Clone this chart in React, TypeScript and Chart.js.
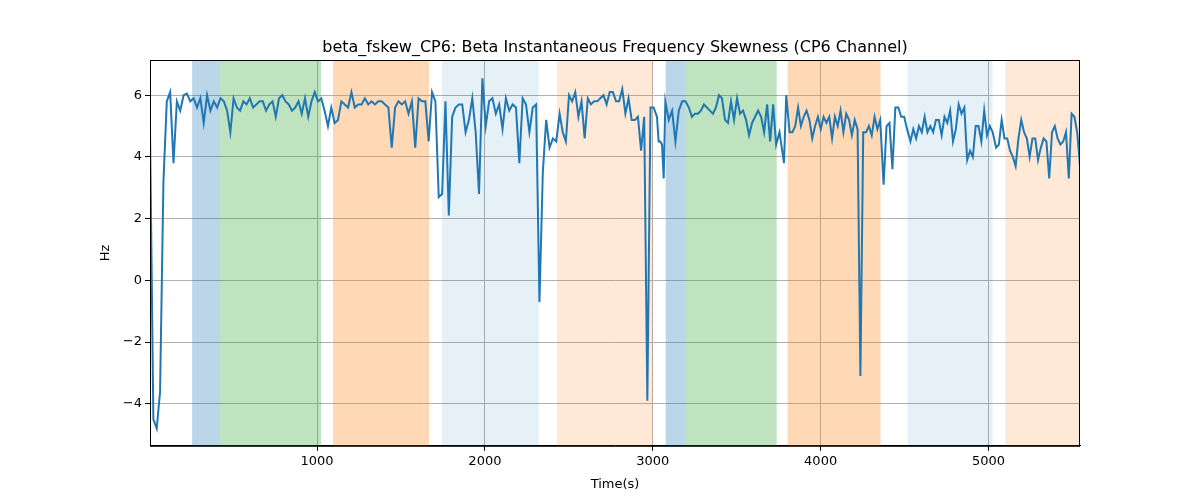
import React, { useEffect, useRef } from "react";
import { Chart, registerables } from "chart.js";
Chart.register(...registerables);

// Each segment: start time, end time, values evenly spaced across it
const segStart = [5, 265, 445, 1045, 1105, 1685, 1765, 2345, 2445, 3025, 3095, 3215, 3755, 3815, 4375, 4535, 5045];
const segEnd = [245, 425, 1025, 1085, 1665, 1745, 2325, 2425, 3005, 3075, 3195, 3735, 3795, 4355, 4515, 5025, 5545];
const segValues: number[][] = [
  [4.9, -4.5, -4.8, -3.6, 3.2, 5.8, 6.1, 3.8, 5.8, 5.5, 6.0, 6.05, 5.8],
  [5.9, 5.6, 5.9, 5.1, 6.0, 5.5, 5.8, 5.6, 5.9],
  [5.8, 5.5, 4.8, 5.9, 5.6, 5.5, 5.8, 5.7, 5.9, 5.6, 5.7, 5.8, 5.8, 5.5, 5.7, 5.8, 5.3, 5.9, 6.0, 5.8, 5.7, 5.5, 5.6, 5.8, 5.4, 5.9, 5.3, 5.8, 6.1, 5.8, 5.9],
  [5.5, 5.0, 5.6],
  [5.1, 5.2, 5.8, 5.7, 5.6, 6.1, 5.6, 5.7, 5.7, 5.9, 5.7, 5.8, 5.7, 5.8, 5.8, 5.7, 5.6, 4.3, 5.6, 5.8, 5.7, 5.8, 5.4, 5.8, 4.3, 5.9, 5.8, 5.8, 4.5],
  [6.1, 5.8, 2.7, 2.8],
  [5.8, 2.1, 5.3, 5.6, 5.7, 5.7, 4.8, 5.2, 5.9, 4.8, 2.8, 6.55, 5.0, 5.8, 5.9, 5.4, 5.7, 4.9, 5.9, 5.5, 5.7, 5.6, 3.8, 5.9, 5.7, 4.8, 5.6, 5.7, -0.7],
  [3.5, 5.2, 4.3, 4.6, 4.5],
  [5.4, 4.8, 4.5, 6.0, 5.8, 6.1, 5.3, 5.8, 4.6, 5.9, 5.7, 5.8, 5.8, 5.9, 6.0, 5.7, 6.1, 6.1, 5.8, 5.8, 6.2, 5.4, 5.9, 5.2, 5.2, 5.3, 4.2, 5.3, -3.9, 5.6, 5.6],
  [5.3, 4.5, 4.5, 4.4, 3.3, 5.8],
  [5.2, 5.5, 4.5, 5.5, 5.8, 5.8],
  [5.6, 5.3, 5.4, 5.4, 5.5, 5.7, 5.6, 5.5, 5.4, 5.6, 6.0, 5.9, 5.2, 5.1, 5.8, 5.2, 5.9, 5.4, 5.5, 5.2, 4.7, 5.1, 5.3, 5.5, 5.3, 4.8, 5.7, 4.5, 5.7, 4.4],
  [4.8, 4.3, 3.8, 6.0],
  [4.8, 4.8, 5.0, 5.6, 5.0, 5.3, 5.5, 5.2, 4.6, 5.0, 5.3, 4.9, 5.3, 5.1, 5.3, 4.6, 5.3, 5.0, 5.5, 4.8, 5.4, 5.2, 4.7, 5.2, 4.9, -3.1, 4.8, 4.8, 5.0, 4.7, 5.3, 4.9, 5.2],
  [3.1, 5.0, 5.1, 3.6, 5.6, 5.6, 5.3, 5.3, 4.9],
  [4.5, 4.9, 4.6, 5.0, 4.8, 5.3, 4.8, 5.0, 4.8, 5.2, 5.2, 4.7, 5.3, 5.1, 5.5, 4.5, 4.9, 5.7, 5.4, 5.6, 3.9, 4.2, 4.0, 5.0, 5.0, 4.5, 5.5, 4.7, 5.0, 4.8],
  [4.3, 4.4, 5.2, 4.6, 4.6, 4.2, 4.0, 3.7, 4.6, 5.2, 4.8, 4.6, 4.0, 4.6, 4.6, 3.9, 4.3, 4.6, 4.5, 3.3, 4.8, 5.0, 4.6, 4.4, 4.5, 4.8, 3.3, 5.4, 5.3, 4.8, 3.7],
];

const bandStarts = [256, 423, 1095, 1744, 2429, 3077, 3196, 3804, 4518, 5101];
const bandEnds = [423, 1024, 1667, 2321, 3000, 3196, 3738, 4357, 5024, 5542];
const bandColors = [
  "rgba(31,119,180,0.3)", "rgba(44,160,44,0.3)", "rgba(255,127,14,0.3)",
  "rgba(31,119,180,0.11)", "rgba(255,127,14,0.17)",
  "rgba(31,119,180,0.3)", "rgba(44,160,44,0.3)", "rgba(255,127,14,0.3)",
  "rgba(31,119,180,0.11)", "rgba(255,127,14,0.17)",
];
const xTicks = [1000, 2000, 3000, 4000, 5000];
const yTicks = [-4, -2, 0, 2, 4, 6];
const titleText = "beta_fskew_CP6: Beta Instantaneous Frequency Skewness (CP6 Channel)";

const points: { x: number; y: number }[] = [];
segValues.forEach((vals, s) => {
  vals.forEach((v, i) => {
    const t = vals.length > 1 ? segStart[s] + (i * (segEnd[s] - segStart[s])) / (vals.length - 1) : segStart[s];
    points.push({ x: t, y: v });
  });
});

const bandPlugin = {
  id: "bands",
  beforeDatasetsDraw(chart: any) {
    const { ctx, chartArea, scales } = chart;
    ctx.save();
    bandStarts.forEach((s, i) => {
      const x0 = scales.x.getPixelForValue(s);
      const x1 = scales.x.getPixelForValue(bandEnds[i]);
      ctx.fillStyle = bandColors[i];
      ctx.fillRect(x0, chartArea.top, x1 - x0, chartArea.bottom - chartArea.top);
    });
    ctx.restore();
  },
  afterDraw(chart: any) {
    const { ctx, chartArea } = chart;
    ctx.save();
    ctx.strokeStyle = "#000";
    ctx.lineWidth = 1;
    ctx.strokeRect(chartArea.left + 0.5, chartArea.top + 0.5, chartArea.right - chartArea.left - 1, chartArea.bottom - chartArea.top);
    ctx.fillStyle = "#000";
    ctx.font = "16px 'DejaVu Sans'";
    ctx.textAlign = "center";
    ctx.textBaseline = "alphabetic";
    ctx.fillText(titleText, (chartArea.left + chartArea.right) / 2, 52);
    ctx.restore();
  },
};

export default function App() {
  const ref = useRef<HTMLCanvasElement>(null);
  useEffect(() => {
    document.body.style.margin = "0";
    const font = { family: "DejaVu Sans", size: 13 };
    const chart = new Chart(ref.current!, {
      type: "line",
      data: {
        datasets: [{ data: points, borderColor: "#1f77b4", borderWidth: 2, pointRadius: 0, tension: 0 }],
      },
      options: {
        animation: false, responsive: false, maintainAspectRatio: false,
        layout: { padding: { left: 98, right: 120, top: 60, bottom: 8 } },
        plugins: { legend: { display: false }, tooltip: { enabled: false }, title: { display: false } },
        scales: {
          x: {
            type: "linear", min: 5, max: 5545,
            afterBuildTicks: (s: any) => { s.ticks = xTicks.map((v) => ({ value: v })); },
            ticks: { color: "#000", font, maxRotation: 0, callback: (v: any) => String(v) },
            grid: { color: "#b0b0b0", tickColor: "#000", tickLength: 5 },
            border: { color: "#000" },
            title: { display: true, text: "Time(s)", color: "#000", font, padding: { top: 4, bottom: 0 } },
          },
          y: {
            min: -5.36, max: 7.14,
            afterBuildTicks: (s: any) => { s.ticks = yTicks.map((v) => ({ value: v })); },
            afterFit: (s: any) => { s.width = 52; },
            ticks: { color: "#000", font, callback: (v: any) => (v < 0 ? "\u2212" + Math.abs(v) : String(v)) },
            grid: { color: "#b0b0b0", tickColor: "#000", tickLength: 5 },
            border: { color: "#000" },
            title: { display: true, text: "Hz", color: "#000", font, padding: 0 },
          },
        },
      },
      plugins: [bandPlugin],
    } as any);
    return () => chart.destroy();
  }, []);
  return <canvas ref={ref} width={1200} height={500} style={{ display: "block" }} />;
}
